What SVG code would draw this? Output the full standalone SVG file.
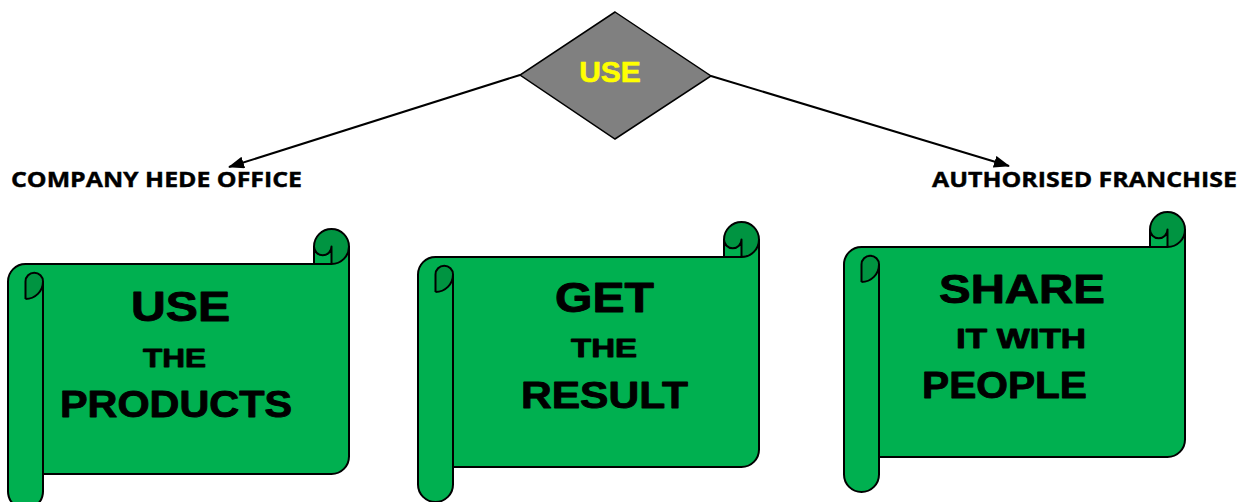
<svg xmlns="http://www.w3.org/2000/svg" xmlns:xlink="http://www.w3.org/1999/xlink" width="1248" height="502" viewBox="0 0 1248 502">
<style>
.fill{fill:#00B050;stroke:none}
.dark{fill:#009441;stroke:none}
.edge{fill:none;stroke:#000;stroke-width:2;stroke-linejoin:round}
.big{font-family:"Liberation Sans",Arial,sans-serif;font-weight:bold;fill:#000;stroke:#000;stroke-width:0.9;stroke-linejoin:round}
.lbl{font-family:"Open Sans","Liberation Sans",sans-serif;font-weight:bold;font-size:20.5px;fill:#000;stroke:#000;stroke-width:0.4}
.conn{stroke:#000;stroke-width:2;fill:none}
</style>
<defs>
<marker id="arr" viewBox="0 0 16 12" refX="15" refY="6" markerWidth="16" markerHeight="12" markerUnits="userSpaceOnUse" orient="auto">
<path d="M0,0 L16,6 L0,12 Z" fill="#000"/>
</marker>
<symbol id="scroll" overflow="visible">
<path class="fill" d="M341 17.5 A17.5 17.5 0 0 1 323.5 35 L323.5 17.5 A8.75 8.75 0 0 1 306 17.5 L306 35 L17.5 35 A17.5 17.5 0 0 0 0 52.5 L0 262.5 A17.5 17.5 0 0 0 35 262.5 L35 245 L323.5 245 A17.5 17.5 0 0 0 341 227.5 Z M17.5 70 A17.5 17.5 0 0 0 35 52.5 A8.75 8.75 0 0 0 17.5 52.5 Z"/>
<path class="dark" d="M17.5 70 A17.5 17.5 0 0 0 35 52.5 A8.75 8.75 0 0 0 17.5 52.5 Z M323.5 35 A17.5 17.5 0 1 0 306 17.5 A8.75 8.75 0 0 0 323.5 17.5 Z"/>
<path class="edge" d="M0 52.5 A17.5 17.5 0 0 1 17.5 35 L306 35 L306 17.5 A17.5 17.5 0 0 1 341 17.5 L341 227.5 A17.5 17.5 0 0 1 323.5 245 L35 245 L35 262.5 A17.5 17.5 0 0 1 0 262.5 Z M306 35 L323.5 35 A17.5 17.5 0 0 0 341 17.5 M323.5 35 L323.5 17.5 A8.75 8.75 0 0 1 306 17.5 M17.5 70 L17.5 52.5 A8.75 8.75 0 0 1 35 52.5 A17.5 17.5 0 0 1 17.5 70 M35 52.5 L35 245"/>
</symbol>
</defs>

<g id="connectors">
<line class="conn" x1="520" y1="75" x2="229" y2="167" marker-end="url(#arr)"/>
<line class="conn" x1="711" y1="76" x2="1009" y2="166" marker-end="url(#arr)"/>
</g>

<g id="use-diamond">
<polygon points="615,12 711,76 615,139 520,75" fill="#808080" stroke="#000" stroke-width="1.5"/>
<text x="610" y="82" text-anchor="middle" class="big" font-size="30" style="fill:#FFFF00;stroke:#FFFF00;stroke-width:0.6">USE</text>
</g>

<g id="label-company">
<text class="lbl" x="11" y="187" textLength="291" lengthAdjust="spacingAndGlyphs">COMPANY HEDE OFFICE</text>
</g>

<g id="label-franchise">
<text class="lbl" x="932" y="187" textLength="305" lengthAdjust="spacingAndGlyphs">AUTHORISED FRANCHISE</text>
</g>

<g id="scroll-use">
<use xlink:href="#scroll" href="#scroll" x="8" y="229"/>
<text class="big" x="131" y="321" font-size="43" textLength="99" lengthAdjust="spacingAndGlyphs">USE</text>
<text class="big" x="143" y="367" font-size="26" textLength="63" lengthAdjust="spacingAndGlyphs">THE</text>
<text class="big" x="60" y="417" font-size="37.5" textLength="232" lengthAdjust="spacingAndGlyphs">PRODUCTS</text>
</g>

<g id="scroll-get">
<use xlink:href="#scroll" href="#scroll" x="418" y="222"/>
<text class="big" x="555" y="312" font-size="42" textLength="99" lengthAdjust="spacingAndGlyphs">GET</text>
<text class="big" x="571" y="357" font-size="25.5" textLength="66" lengthAdjust="spacingAndGlyphs">THE</text>
<text class="big" x="521" y="408" font-size="37.5" textLength="167" lengthAdjust="spacingAndGlyphs">RESULT</text>
</g>

<g id="scroll-share">
<use xlink:href="#scroll" href="#scroll" x="844" y="212"/>
<text class="big" x="939" y="303" font-size="40.5" textLength="166" lengthAdjust="spacingAndGlyphs">SHARE</text>
<text class="big" x="956" y="348" font-size="27" textLength="130" lengthAdjust="spacingAndGlyphs">IT WITH</text>
<text class="big" x="922" y="398" font-size="37.5" textLength="165" lengthAdjust="spacingAndGlyphs">PEOPLE</text>
</g>
</svg>
